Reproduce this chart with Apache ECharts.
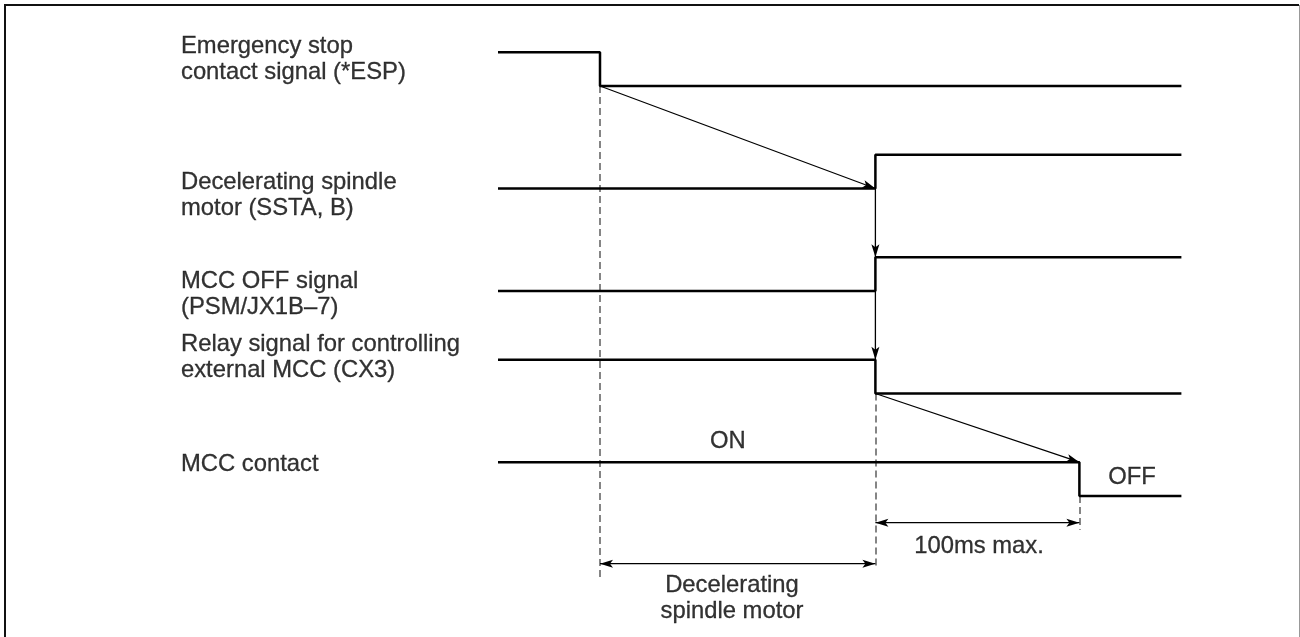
<!DOCTYPE html>
<html>
<head>
<meta charset="utf-8">
<script src="https://cdn.jsdelivr.net/npm/echarts@6/dist/echarts.min.js"></script>
<style>
html,body{margin:0;padding:0;background:#fff;}
#chart{width:1300px;height:637px;}
</style>
</head>
<body>
<div id="chart"></div>
<script>
// ---------------- DATA ----------------
const signalLabels = [
  'Emergency stop\ncontact signal (*ESP)',
  'Decelerating spindle\nmotor (SSTA, B)',
  'MCC OFF signal\n(PSM/JX1B\u20137)',
  'Relay signal for controlling\nexternal MCC (CX3)',
  'MCC contact'
];
const timeStart = -50;          // ms, start of drawn traces
const timeEnd = 285;            // ms, end of drawn traces
const switchTimes = [0, 135, 135, 135, 235];   // ms, transition instant of each signal
const levelsBefore = [1, 0, 0, 1, 1];          // 1 = high, 0 = low
const levelsAfter  = [0, 1, 1, 0, 0];
// causal arrows: [time, signal index, level]
const arrowFrom = [[0, 0, 0], [135, 1, 0], [135, 2, 0], [135, 3, 0]];
const arrowTo   = [[135, 1, 0], [135, 2, 1], [135, 3, 1], [235, 4, 1]];
const stateLabels = ['ON', 'OFF'];
const spanLabels = ['Decelerating\nspindle motor', '100ms max.'];
const spans = [[0, 135], [135, 235]];
const markerTimes = [0, 135, 235];

// ---------------- LAYOUT ----------------
const HIGH = 0.33;                       // height of a high level in lane units
const yOf = (sig, lvl) => sig - lvl * HIGH;
const FONT = "'Liberation Sans', Arial, Helvetica, sans-serif";
const FS = 23.8;
const LH = 26;
const labelX = -205.4;
const labelY = [-0.263, 1.063, 2.029, 2.644, 3.688];
const markerFrom = [0, 3, 4];
const markerTo = [4.79, 4.70, 4.33];
const spanY = [4.66, 4.26];
const spanTextPos = [[64.7, 5.0], [185.8, 4.488]];
const statePos = [[62.7, 3.463], [260.8, 3.815]];
const HEAD_LEN = 13, HEAD_HALF = 4, HEAD_NOTCH = 10;

const series = [];

// dashed timing markers
series.push({
  type: 'lines', coordinateSystem: 'cartesian2d', silent: true, z: 1,
  lineStyle: { color: '#5c5c5c', width: 1.5, type: [7, 4], opacity: 1 },
  symbol: 'none',
  data: markerTimes.map((t, i) => ({ coords: [[t, markerFrom[i]], [t, markerTo[i]]] }))
});

// arrows drawn with custom series: [x1, y1, x2, y2, headAtStart, headAtEnd]
function head(tip, from) {
  const dx = tip[0] - from[0], dy = tip[1] - from[1];
  const L = Math.sqrt(dx * dx + dy * dy) || 1;
  const ux = dx / L, uy = dy / L, px = -uy, py = ux;
  return {
    type: 'polygon',
    shape: { points: [
      [tip[0], tip[1]],
      [tip[0] - ux * HEAD_LEN + px * HEAD_HALF, tip[1] - uy * HEAD_LEN + py * HEAD_HALF],
      [tip[0] - ux * HEAD_NOTCH, tip[1] - uy * HEAD_NOTCH],
      [tip[0] - ux * HEAD_LEN - px * HEAD_HALF, tip[1] - uy * HEAD_LEN - py * HEAD_HALF]
    ] },
    style: { fill: '#000', stroke: null }
  };
}
const arrowData = [];
arrowFrom.forEach((f, i) => {
  arrowData.push([f[0], yOf(f[1], f[2]), arrowTo[i][0], yOf(arrowTo[i][1], arrowTo[i][2]), 0, 1]);
});
spans.forEach((s, i) => {
  arrowData.push([s[0], spanY[i], s[1], spanY[i], 1, 1]);
});
series.push({
  type: 'custom', silent: true, z: 2, clip: false,
  data: arrowData,
  renderItem: function (params, api) {
    const p1 = api.coord([api.value(0), api.value(1)]);
    const p2 = api.coord([api.value(2), api.value(3)]);
    const children = [{
      type: 'line',
      shape: { x1: p1[0], y1: p1[1], x2: p2[0], y2: p2[1] },
      style: { stroke: '#000', lineWidth: 1.3 }
    }];
    if (api.value(4)) children.push(head(p1, p2));
    if (api.value(5)) children.push(head(p2, p1));
    return { type: 'group', children: children };
  }
});

// signal traces
signalLabels.forEach((name, i) => {
  const y0 = yOf(i, levelsBefore[i]);
  const y1 = yOf(i, levelsAfter[i]);
  series.push({
    type: 'line', name: name, silent: true, z: 3, clip: false,
    symbol: 'none',
    lineStyle: { color: '#000', width: 2.5 },
    data: [[timeStart, y0], [switchTimes[i], y0], [switchTimes[i], y1], [timeEnd, y1]]
  });
});

// text labels
const textStyle = { color: '#000', fontFamily: FONT, fontSize: FS, lineHeight: LH, textBorderColor: '#000', textBorderWidth: 0.3, textShadowBlur: 0 };
const texts = [];
signalLabels.forEach((name, i) => {
  texts.push({ value: [labelX, labelY[i]], label: Object.assign({ formatter: name, align: 'left', verticalAlign: 'middle' }, textStyle) });
});
stateLabels.forEach((s, i) => {
  texts.push({ value: statePos[i], label: Object.assign({ formatter: s, align: 'center', verticalAlign: 'middle' }, textStyle) });
});
spanLabels.forEach((s, i) => {
  texts.push({ value: spanTextPos[i], label: Object.assign({ formatter: s, align: 'center', verticalAlign: 'middle' }, textStyle) });
});
series.push({
  type: 'scatter', silent: true, z: 5, clip: false,
  symbolSize: 0,
  label: { show: true, position: [0, 0] },
  data: texts
});

const chart = echarts.init(document.getElementById('chart'), null, { renderer: 'canvas' });
chart.setOption({
  animation: false,
  backgroundColor: '#fff',
  grid: { left: 0, right: 0, top: 4, bottom: 18 },
  xAxis: { type: 'value', min: -294.12, max: 343.14, show: false },
  yAxis: { type: 'value', inverse: true, min: -0.8, max: 5.2, show: false },
  tooltip: { show: false },
  graphic: [
    { type: 'polyline', silent: true, shape: { points: [[5, 637], [5, 5], [1299, 5]] }, style: { stroke: '#111', lineWidth: 2, fill: null } },
    { type: 'line', silent: true, shape: { x1: 1299.5, y1: 5, x2: 1299.5, y2: 637 }, style: { stroke: '#999', lineWidth: 1 } }
  ],
  series: series
});
</script>
</body>
</html>
